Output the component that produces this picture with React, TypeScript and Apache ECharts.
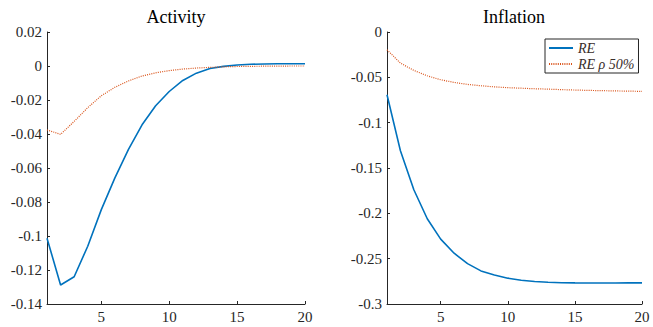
import React, { useEffect, useRef } from "react";
import * as echarts from "echarts";

const periods = [1, 2, 3, 4, 5, 6, 7, 8, 9, 10, 11, 12, 13, 14, 15, 16, 17, 18, 19, 20];
const activityRE = [-0.1013, -0.1288, -0.124, -0.106, -0.0845, -0.0658, -0.049, -0.0346, -0.0234, -0.015, -0.0085, -0.0042, -0.0015, -0.0002, 0.0006, 0.001, 0.0012, 0.0013, 0.0013, 0.0013];
const activityRho = [-0.0376, -0.0402, -0.0326, -0.0245, -0.0175, -0.0125, -0.0088, -0.0059, -0.004, -0.0027, -0.0018, -0.0012, -0.0008, -0.0005, -0.0003, -0.0002, -0.0001, -0.0001, 0, 0];
const inflationRE = [-0.0692, -0.131, -0.174, -0.206, -0.2285, -0.244, -0.2555, -0.2635, -0.268, -0.2715, -0.2738, -0.2752, -0.276, -0.2765, -0.2767, -0.2768, -0.2768, -0.2768, -0.2767, -0.2767];
const inflationRho = [-0.0196, -0.0343, -0.0424, -0.0483, -0.0527, -0.0556, -0.0578, -0.0593, -0.0605, -0.0614, -0.062, -0.0626, -0.063, -0.0636, -0.064, -0.0644, -0.0647, -0.065, -0.0652, -0.0655];
const xTicks = [5, 10, 15, 20];
const titles = ["Activity", "Inflation"];
const seriesNames = ["RE", "RE \u03c1 50%"];

const AXIS = "#262626";
const FONT = "'Liberation Serif', 'Times New Roman', 'DejaVu Serif', serif";
const BLUE = "#0072BD";
const ORANGE = "#D95319";
const TICK_FONT = 15;

const fmt = (v: number) => String(parseFloat(v.toFixed(4)));

export default function App() {
  const ref = useRef<HTMLDivElement>(null);
  useEffect(() => {
    if (!ref.current) return;
    const chart = echarts.init(ref.current, undefined, { renderer: "svg" });
    const pair = (ys: number[]) => periods.map((p, i) => [p, ys[i]]);
    const labelStyle = { color: AXIS, fontFamily: FONT, fontSize: TICK_FONT, formatter: fmt };
    const xAxisCfg = (gridIndex: number) => ({
      type: "value",
      gridIndex,
      min: 1,
      max: 20,
      axisLine: { onZero: false, lineStyle: { color: AXIS, width: 1 } },
      axisTick: { inside: true, length: 3, customValues: xTicks, lineStyle: { color: AXIS } },
      axisLabel: { customValues: xTicks, margin: 5, ...labelStyle },
      splitLine: { show: false },
    });
    const yAxisCfg = (gridIndex: number, min: number, max: number, interval: number) => ({
      type: "value",
      gridIndex,
      min,
      max,
      interval,
      axisLine: { show: true, onZero: false, lineStyle: { color: AXIS, width: 1 } },
      axisTick: { show: true, inside: true, length: 3, lineStyle: { color: AXIS } },
      axisLabel: { margin: 5, ...labelStyle },
      splitLine: { show: false },
    });
    const lineRE = { width: 1.6, color: BLUE, type: "solid" };
    const lineRho = { width: 1.2, color: ORANGE, type: [1, 1.2] };
    chart.setOption({
      animation: false,
      backgroundColor: "#ffffff",
      textStyle: { fontFamily: FONT, fontSize: TICK_FONT, color: AXIS },
      grid: [
        { left: 47, top: 32, width: 258, height: 272 },
        { left: 387, top: 32, width: 255, height: 272 },
      ],
      xAxis: [xAxisCfg(0), xAxisCfg(1)],
      yAxis: [yAxisCfg(0, -0.14, 0.02, 0.02), yAxisCfg(1, -0.3, 0, 0.05)],
      legend: {
        left: 545,
        top: 39,
        orient: "vertical",
        padding: [2, 4, 2, 3],
        itemWidth: 24,
        itemHeight: 14,
        itemGap: 2,
        borderColor: AXIS,
        borderWidth: 1,
        borderRadius: 0,
        backgroundColor: "#ffffff",
        data: seriesNames,
        itemStyle: { opacity: 0 },
        textStyle: { fontFamily: FONT, fontStyle: "italic", fontSize: 14, color: "#3a2e2a" },
      },
      graphic: [
        { type: "text", x: 176, y: 17, style: { text: titles[0], align: "center", verticalAlign: "middle", fontFamily: FONT, fontSize: 18, fill: "#000" } },
        { type: "text", x: 514, y: 17, style: { text: titles[1], align: "center", verticalAlign: "middle", fontFamily: FONT, fontSize: 18, fill: "#000" } },
      ],
      series: [
        { name: seriesNames[0], type: "line", xAxisIndex: 0, yAxisIndex: 0, data: pair(activityRE), showSymbol: false, symbol: "none", lineStyle: lineRE, itemStyle: { color: BLUE } },
        { name: seriesNames[1], type: "line", xAxisIndex: 0, yAxisIndex: 0, data: pair(activityRho), showSymbol: false, symbol: "none", lineStyle: lineRho, itemStyle: { color: ORANGE } },
        { name: seriesNames[0], type: "line", xAxisIndex: 1, yAxisIndex: 1, data: pair(inflationRE), showSymbol: false, symbol: "none", lineStyle: lineRE, itemStyle: { color: BLUE } },
        { name: seriesNames[1], type: "line", xAxisIndex: 1, yAxisIndex: 1, data: pair(inflationRho), showSymbol: false, symbol: "none", lineStyle: lineRho, itemStyle: { color: ORANGE } },
      ],
    });
    return () => chart.dispose();
  }, []);
  return <div ref={ref} style={{ position: "fixed", left: 0, top: 0, width: 653, height: 327 }} />;
}
